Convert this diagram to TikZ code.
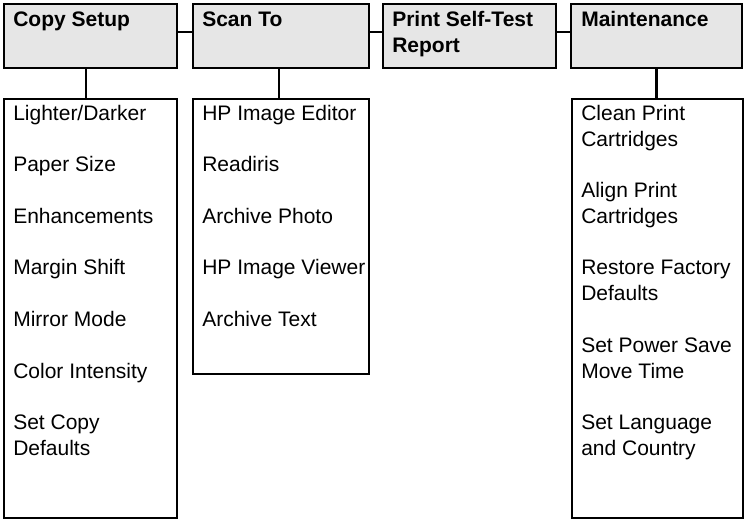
\documentclass[tikz,border=0pt]{standalone}
\usepackage{fontspec}
\setmainfont{Liberation Sans}
\begin{document}
\begin{tikzpicture}[x=1bp,y=-1bp,
  line width=2.6bp,
  hdr/.style={draw=black,fill=hdrgray,rectangle,anchor=north west,inner sep=0pt,outer sep=0pt},
  sub/.style={draw=black,fill=white,rectangle,anchor=north west,inner sep=0pt,outer sep=0pt},
  htxt/.style={anchor=base west,inner sep=0pt,font=\fontsize{21bp}{25.7bp}\selectfont\bfseries},
  itxt/.style={anchor=base west,inner sep=0pt,font=\fontsize{21bp}{25.7bp}\selectfont},
  link/.style={draw=black,line width=2.6bp}]
\definecolor{hdrgray}{HTML}{E6E6E6}
\useasboundingbox (0,0) rectangle (745,522);
% header boxes
\node[hdr,minimum width=173bp,minimum height=64bp] (h1) at (4,4) {};
\node[hdr,minimum width=176bp,minimum height=64bp] (h2) at (193,4) {};
\node[hdr,minimum width=173bp,minimum height=64bp] (h3) at (383,4) {};
\node[hdr,minimum width=171bp,minimum height=64bp] (h4) at (571,4) {};
% sub boxes
\node[sub,minimum width=173bp,minimum height=419bp] (s1) at (4,99) {};
\node[sub,minimum width=176bp,minimum height=275bp] (s2) at (193,99) {};
\node[sub,minimum width=171bp,minimum height=419bp] (s4) at (572,99) {};
% connectors
\draw[link] ([yshift=-28bp]h1.north east) -- ([yshift=-28bp]h2.north west);
\draw[link] ([yshift=-28bp]h2.north east) -- ([yshift=-28bp]h3.north west);
\draw[link] ([yshift=-28bp]h3.north east) -- ([yshift=-28bp]h4.north west);
\draw[link] ([xshift=-4.5bp]h1.south) -- ([xshift=-4.5bp]h1.south |- s1.north);
\draw[link] ([xshift=-2bp]h2.south) -- ([xshift=-2bp]h2.south |- s2.north);
\draw[link] (h4.south) -- (h4.south |- s4.north);
% header texts
\node[htxt] (t1) at (12,27) {Copy Setup};
\node[htxt] (t2) at (201,27) {Scan To};
\node[htxt] (t3a) at (391,27) {Print Self-Test};
\node[htxt] (t3b) at (391,53) {Report};
\node[htxt] (t4) at (580,27) {Maintenance};
% copy setup items
\node[itxt] (c1) at (12,120.5) {Lighter/Darker};
\node[itxt] (c2) at (12,172) {Paper Size};
\node[itxt] (c3) at (12,223.5) {Enhancements};
\node[itxt] (c4) at (12,275) {Margin Shift};
\node[itxt] (c5) at (12,326.5) {Mirror Mode};
\node[itxt] (c6) at (12,378) {Color Intensity};
\node[itxt] (c7a) at (12,429.5) {Set Copy};
\node[itxt] (c7b) at (12,455.2) {Defaults};
% scan to items
\node[itxt] (d1) at (201,120.5) {HP Image Editor};
\node[itxt] (d2) at (201,172) {Readiris};
\node[itxt] (d3) at (201,223.5) {Archive Photo};
\node[itxt] (d4) at (201,275) {HP Image Viewer};
\node[itxt] (d5) at (201,326.5) {Archive Text};
% maintenance items
\node[itxt] (m1a) at (580,120.5) {Clean Print};
\node[itxt] (m1b) at (580,146.2) {Cartridges};
\node[itxt] (m2a) at (580,197.7) {Align Print};
\node[itxt] (m2b) at (580,223.5) {Cartridges};
\node[itxt] (m3a) at (580,275) {Restore Factory};
\node[itxt] (m3b) at (580,300.7) {Defaults};
\node[itxt] (m4a) at (580,352.2) {Set Power Save};
\node[itxt] (m4b) at (580,378) {Move Time};
\node[itxt] (m5a) at (580,429.5) {Set Language};
\node[itxt] (m5b) at (580,455.2) {and Country};
\end{tikzpicture}
\end{document}
